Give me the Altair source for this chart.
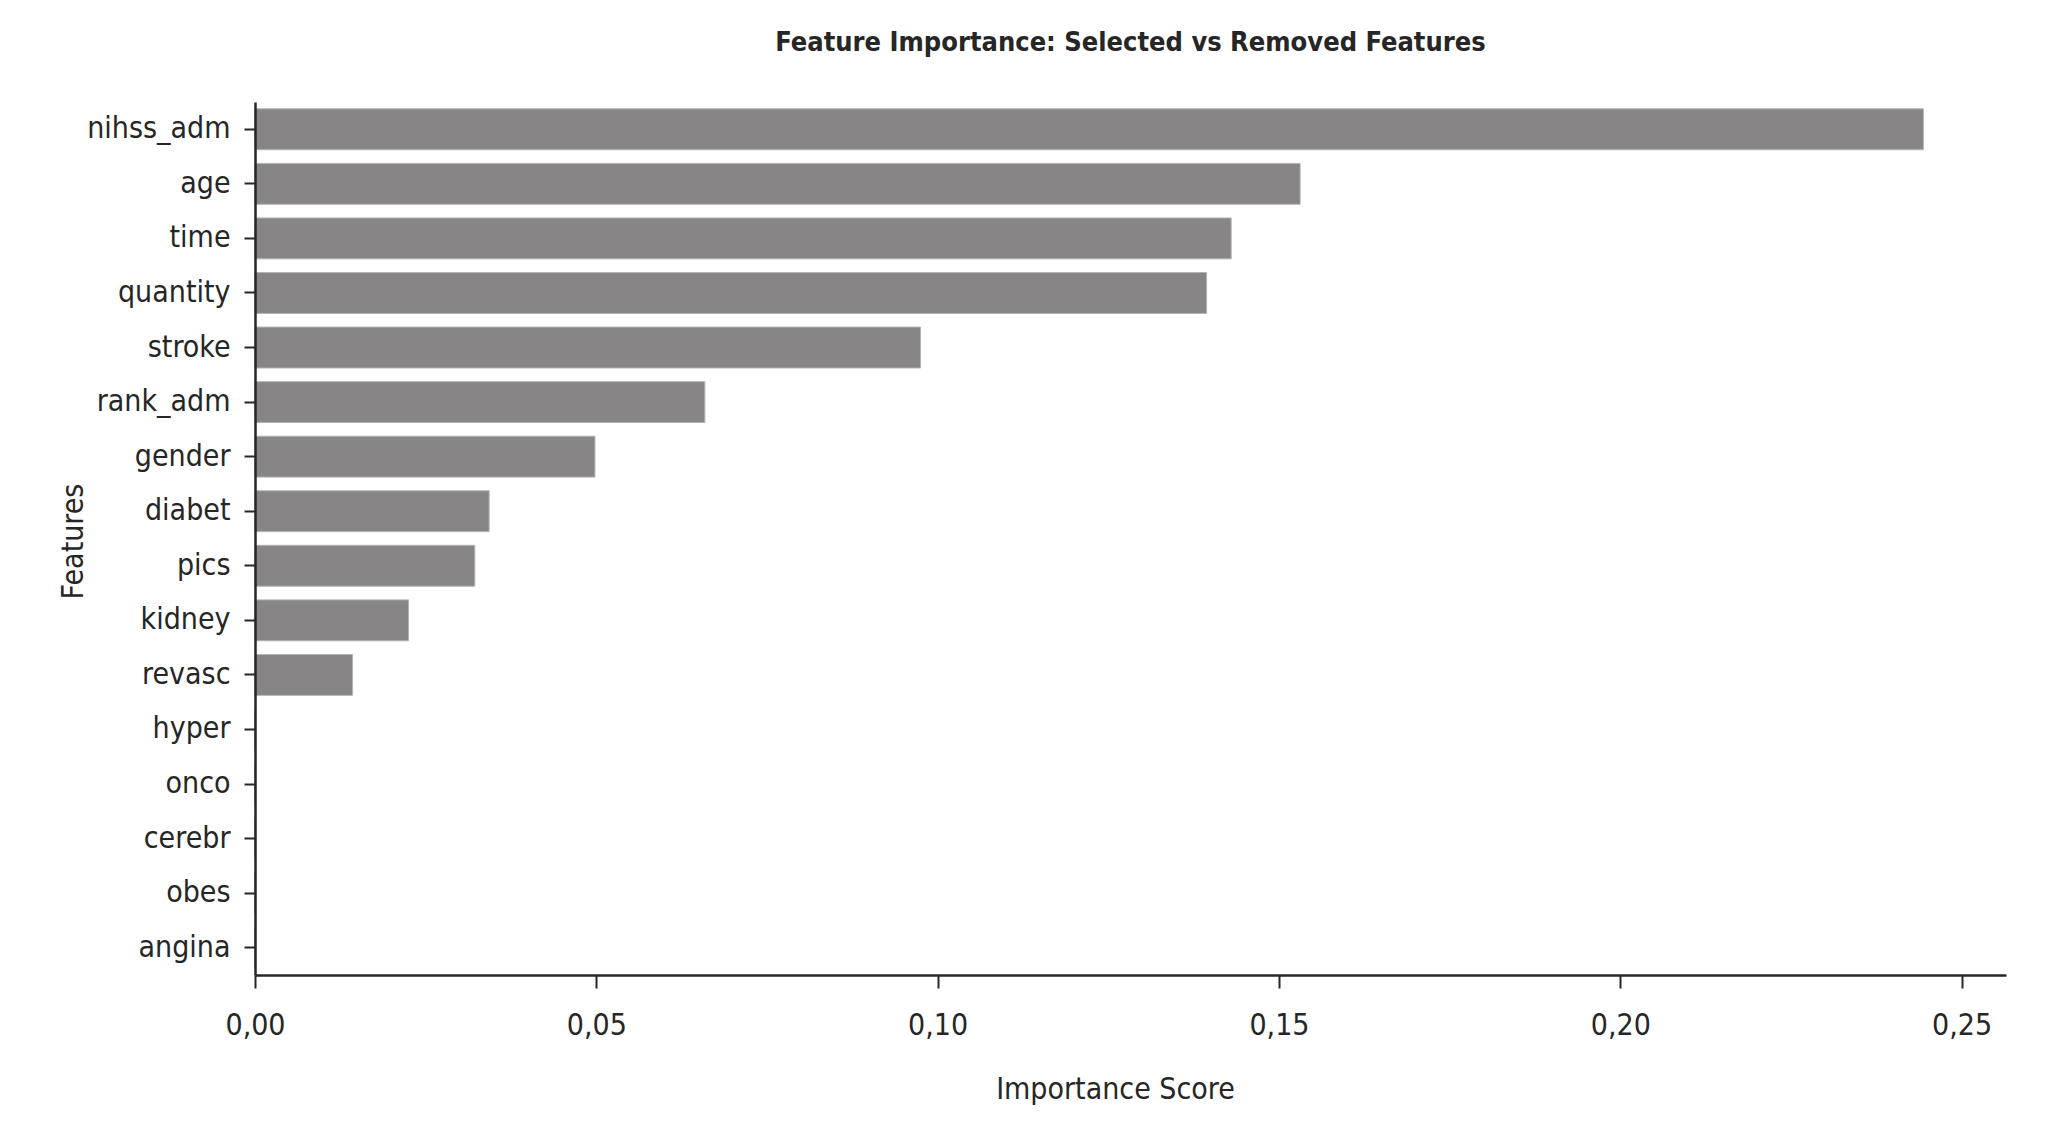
import altair as alt
import pandas as pd

features = ["nihss_adm", "age", "time", "quantity", "stroke", "rank_adm", "gender",
            "diabet", "pics", "kidney", "revasc", "hyper", "onco", "cerebr", "obes", "angina"]
importance = [0.2444, 0.1531, 0.1430, 0.1394, 0.0975, 0.0659, 0.0498,
              0.0343, 0.0322, 0.0225, 0.0143, 0.0, 0.0, 0.0, 0.0, 0.0]
x_ticks = [0.0, 0.05, 0.10, 0.15, 0.20, 0.25]

df = pd.DataFrame({"feature": features, "importance": importance})

FONT = "DejaVu Sans Condensed"
INK = "#262626"

chart = alt.Chart(df).mark_bar(
    color="#878586", stroke="#b4b4b4", strokeWidth=1
).encode(
    x=alt.X("importance:Q",
            scale=alt.Scale(domain=[0, 0.2565], nice=False, zero=True),
            axis=alt.Axis(values=x_ticks, title="Importance Score",
                          labelExpr="replace(format(datum.value, '.2f'), '.', ',')",
                          labelFlush=False, zindex=1,
                          grid=False, tickSize=13, tickWidth=2, domainWidth=2.5,
                          labelPadding=22, titleX=860, titleY=123,
                          titleBaseline="alphabetic", titleAnchor="start",
                          titleAlign="center")),
    y=alt.Y("feature:N", sort=features,
            scale=alt.Scale(paddingInner=0.25, paddingOuter=0.125, range=[7, 880]),
            axis=alt.Axis(title="Features", tickSize=11, tickWidth=2, domainWidth=2.5,
                          labelPadding=14, titleX=-173, titleY=446, titleAngle=270,
                          titleBaseline="alphabetic", titleAlign="center",
                          titleAnchor="start", zindex=1)),
).properties(
    width=1751,
    height=880,
    title=alt.TitleParams("Feature Importance: Selected vs Removed Features",
                          font=FONT, fontSize=27, fontWeight="bold", color=INK,
                          anchor="middle", baseline="alphabetic", offset=17),
    autosize=alt.AutoSizeParams(type="none"),
    padding={"left": 247, "top": 87, "right": 20, "bottom": 150},
).configure_view(
    stroke=None
).configure_axis(
    labelFont=FONT, titleFont=FONT, labelFontSize=30, titleFontSize=30,
    labelColor=INK, titleColor=INK, domainColor=INK, tickColor=INK,
    titleFontWeight="normal"
)

chart.save("out.html", embed_options={"renderer": "svg", "actions": False})
